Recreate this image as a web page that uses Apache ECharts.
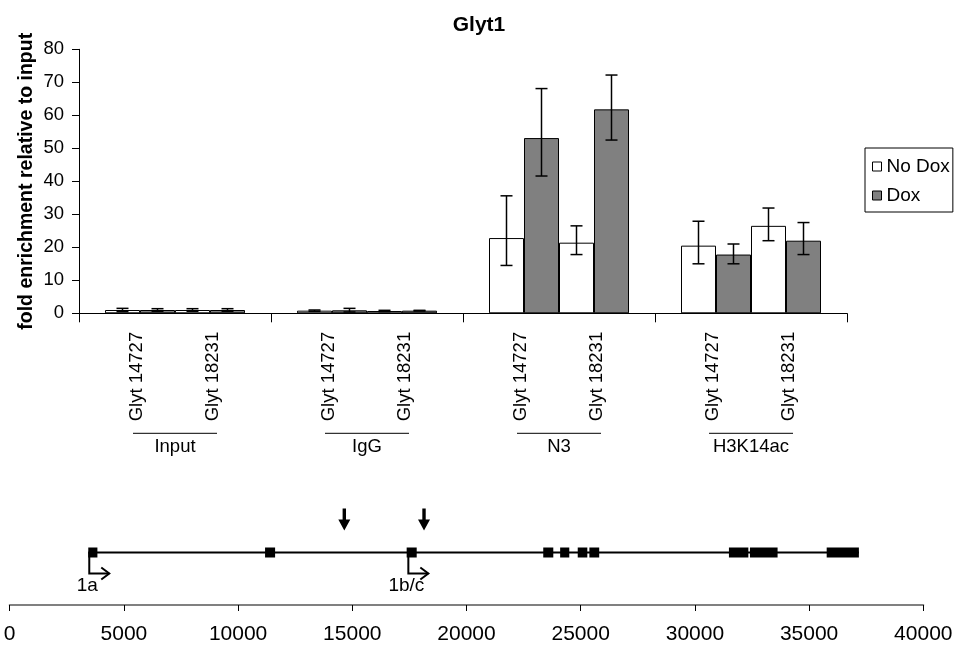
<!DOCTYPE html>
<html>
<head>
<meta charset="utf-8">
<script src="https://cdn.jsdelivr.net/npm/echarts@6/dist/echarts.min.js"></script>
<style>
  html, body { margin: 0; padding: 0; background: #fff; }
  #chart { width: 958px; height: 645px; }
</style>
</head>
<body>
<div id="chart"></div>
<script>
const groups = ['Input', 'IgG', 'N3', 'H3K14ac'];
const primers = ['Glyt 14727', 'Glyt 18231'];

// fold enrichment per primer / condition, one value per group
const noDox14727 = [1.0, 0.8, 22.8, 20.5];
const dox14727   = [1.0, 0.9, 53.1, 17.8];
const noDox18231 = [1.0, 0.7, 21.4, 26.5];
const dox18231   = [1.0, 0.8, 61.8, 22.0];

// error bar ends
const noDox14727Low  = [0.5, 0.6, 14.5, 15.0];
const noDox14727High = [1.5, 1.0, 35.6, 27.9];
const dox14727Low    = [0.6, 0.4, 41.6, 15.0];
const dox14727High   = [1.4, 1.5, 68.1, 21.0];
const noDox18231Low  = [0.6, 0.5, 17.8, 22.0];
const noDox18231High = [1.4, 0.9, 26.5, 31.9];
const dox18231Low    = [0.6, 0.7, 52.5, 17.8];
const dox18231High   = [1.4, 0.9, 72.2, 27.5];

// gene model, bp
const exonStart = [3440, 11180, 17380, 23360, 24100, 24870, 25380, 31490, 32410, 35770];
const exonEnd   = [3840, 11620, 17820, 23800, 24500, 25290, 25810, 32340, 33620, 37180];
const primerPos = [14650, 18140];
const promoterPos = [3440, 17410];
const promoterLabels = ['1a', '1b/c'];

const FONT = "'Liberation Sans', Arial, sans-serif";
const BAR_W = 35;

const bars = [
  { name: 'No Dox', data: noDox14727, low: noDox14727Low, high: noDox14727High, color: '#ffffff' },
  { name: 'Dox', data: dox14727, low: dox14727Low, high: dox14727High, color: '#808080' },
  { name: 'No Dox', data: noDox18231, low: noDox18231Low, high: noDox18231High, color: '#ffffff' },
  { name: 'Dox', data: dox18231, low: dox18231Low, high: dox18231High, color: '#808080' },
];

const errData = [];
bars.forEach((b, k) => b.data.forEach((v, i) => errData.push([i, b.low[i], b.high[i], k])));

const labelData = [];
groups.forEach((g, i) => primers.forEach((p, j) => labelData.push([i, 0, j])));

const chart = echarts.init(document.getElementById('chart'), null, { renderer: 'canvas' });

const option = {
  animation: false,
  textStyle: { fontFamily: FONT, color: '#000' },
  title: {
    text: 'Glyt1',
    left: 'center',
    top: 10,
    textStyle: { fontFamily: FONT, fontSize: 21, fontWeight: 'bold', color: '#000' },
  },
  legend: {
    orient: 'vertical',
    left: 865,
    top: 148,
    padding: [9, 3, 7, 7],
    itemGap: 10,
    itemWidth: 9,
    itemHeight: 9,
    icon: 'rect',
    borderColor: '#000',
    borderWidth: 1,
    textStyle: { fontFamily: FONT, fontSize: 19, color: '#000' },
    data: [
      { name: 'No Dox', itemStyle: { color: '#fff', borderColor: '#000', borderWidth: 1 } },
      { name: 'Dox', itemStyle: { color: '#808080', borderColor: '#000', borderWidth: 1 } },
    ],
  },
  grid: [
    { left: 79, right: 111, top: 49.3, bottom: 331.7 },
    { left: 9.7, right: 34.7, top: 500, bottom: 39.3 },
  ],
  xAxis: [
    {
      type: 'category',
      gridIndex: 0,
      data: groups,
      axisLine: { lineStyle: { color: '#000', width: 1 } },
      axisTick: { show: true, length: 9, lineStyle: { color: '#000' } },
      axisLabel: { margin: 124, fontSize: 18.5, color: '#000', fontFamily: FONT },
    },
    {
      type: 'value',
      gridIndex: 1,
      min: 0,
      max: 40000,
      interval: 5000,
      splitLine: { show: false },
      axisLine: { lineStyle: { color: '#808080', width: 2 } },
      axisTick: { show: true, length: 6, lineStyle: { color: '#000' } },
      axisLabel: { margin: 19, fontSize: 21, color: '#000', fontFamily: FONT, formatter: (v) => String(v) },
    },
  ],
  yAxis: [
    {
      type: 'value',
      gridIndex: 0,
      min: 0,
      max: 80,
      interval: 10,
      name: 'fold enrichment relative to input',
      nameLocation: 'middle',
      nameGap: 42,
      nameMoveOverlap: false,
      nameTextStyle: { fontFamily: FONT, fontSize: 19.5, fontWeight: 'bold', color: '#000' },
      splitLine: { show: false },
      axisLine: { show: true, lineStyle: { color: '#000', width: 1 } },
      axisTick: { show: true, length: 7, lineStyle: { color: '#000' } },
      axisLabel: { margin: 15, fontSize: 18.5, color: '#000', fontFamily: FONT },
    },
    { type: 'value', gridIndex: 1, min: 0, max: 2, show: false },
  ],
  series: [
    ...bars.map((b) => ({
      type: 'bar',
      name: b.name,
      xAxisIndex: 0,
      yAxisIndex: 0,
      data: b.data,
      barWidth: BAR_W,
      barGap: '0%',
      itemStyle: { color: b.color, borderColor: '#000', borderWidth: 1 },
    })),
    {
      type: 'custom',
      name: 'err',
      xAxisIndex: 0,
      yAxisIndex: 0,
      data: errData,
      encode: { x: 0, y: [1, 2] },
      z: 5,
      renderItem(params, api) {
        const cat = api.value(0);
        const k = api.value(3);
        const cx = api.coord([cat, 0])[0] + (k - 1.5) * BAR_W;
        const yl = api.coord([cat, api.value(1)])[1];
        const yh = api.coord([cat, api.value(2)])[1];
        const cap = 6;
        const st = { stroke: '#000', lineWidth: 1.5 };
        return {
          type: 'group',
          children: [
            { type: 'line', shape: { x1: cx, y1: yl, x2: cx, y2: yh }, style: st },
            { type: 'line', shape: { x1: cx - cap, y1: yh, x2: cx + cap, y2: yh }, style: st },
            { type: 'line', shape: { x1: cx - cap, y1: yl, x2: cx + cap, y2: yl }, style: st },
          ],
        };
      },
    },
    {
      type: 'custom',
      name: 'primerLabels',
      xAxisIndex: 0,
      yAxisIndex: 0,
      data: labelData,
      encode: { x: 0, y: 1 },
      clip: false,
      renderItem(params, api) {
        const cat = api.value(0);
        const j = api.value(2);
        const p = api.coord([cat, 0]);
        const children = [{
          type: 'text',
          x: p[0] + (j === 0 ? -38 : 38),
          y: p[1] + 108,
          rotation: Math.PI / 2,
          style: {
            text: primers[j],
            x: 0, y: 0,
            textAlign: 'left',
            textVerticalAlign: 'middle',
            font: '18.5px ' + FONT,
            fill: '#000',
          },
        }];
        if (j === 0) {
          children.push({
            type: 'line',
            shape: { x1: p[0] - 42, y1: p[1] + 120, x2: p[0] + 42, y2: p[1] + 120 },
            style: { stroke: '#000', lineWidth: 1 },
          });
        }
        return { type: 'group', children };
      },
    },
    {
      type: 'line',
      name: 'gene',
      xAxisIndex: 1,
      yAxisIndex: 1,
      data: [[exonStart[0], 1], [exonEnd[exonEnd.length - 1], 1]],
      symbol: 'none',
      lineStyle: { color: '#000', width: 2 },
      silent: true,
    },
    {
      type: 'custom',
      name: 'exons',
      xAxisIndex: 1,
      yAxisIndex: 1,
      data: exonStart.map((s, i) => [s, exonEnd[i]]),
      encode: { x: [0, 1] },
      z: 3,
      renderItem(params, api) {
        const a = api.coord([api.value(0), 1]);
        const b = api.coord([api.value(1), 1]);
        return { type: 'rect', shape: { x: a[0], y: a[1] - 5, width: b[0] - a[0], height: 10 }, style: { fill: '#000' } };
      },
    },
    {
      type: 'custom',
      name: 'primers',
      xAxisIndex: 1,
      yAxisIndex: 1,
      data: primerPos.map((p) => [p]),
      encode: { x: 0 },
      renderItem(params, api) {
        const c = api.coord([api.value(0), 1]);
        const x = c[0], y = c[1];
        return {
          type: 'polygon',
          shape: { points: [[x - 1.7, y - 44], [x + 1.7, y - 44], [x + 1.7, y - 33], [x + 6, y - 33], [x, y - 22], [x - 6, y - 33], [x - 1.7, y - 33]] },
          style: { fill: '#000' },
        };
      },
    },
    {
      type: 'custom',
      name: 'promoters',
      xAxisIndex: 1,
      yAxisIndex: 1,
      data: promoterPos.map((p, i) => [p, i]),
      encode: { x: 0 },
      z: 4,
      renderItem(params, api) {
        const c = api.coord([api.value(0), 1]);
        const x = c[0] + 1, y = c[1];
        const st = { stroke: '#000', lineWidth: 2, fill: null };
        return {
          type: 'group',
          children: [
            { type: 'polyline', shape: { points: [[x, y], [x, y + 21], [x + 20, y + 21]] }, style: st },
            { type: 'polyline', shape: { points: [[x + 12, y + 15], [x + 20, y + 21], [x + 12, y + 27]] }, style: st },
            {
              type: 'text',
              x: x - 2,
              y: y + 33,
              style: {
                text: promoterLabels[api.value(1)],
                textAlign: 'center',
                textVerticalAlign: 'middle',
                font: '19px ' + FONT,
                fill: '#000',
              },
            },
          ],
        };
      },
    },
  ],
};

chart.setOption(option);
</script>
</body>
</html>
